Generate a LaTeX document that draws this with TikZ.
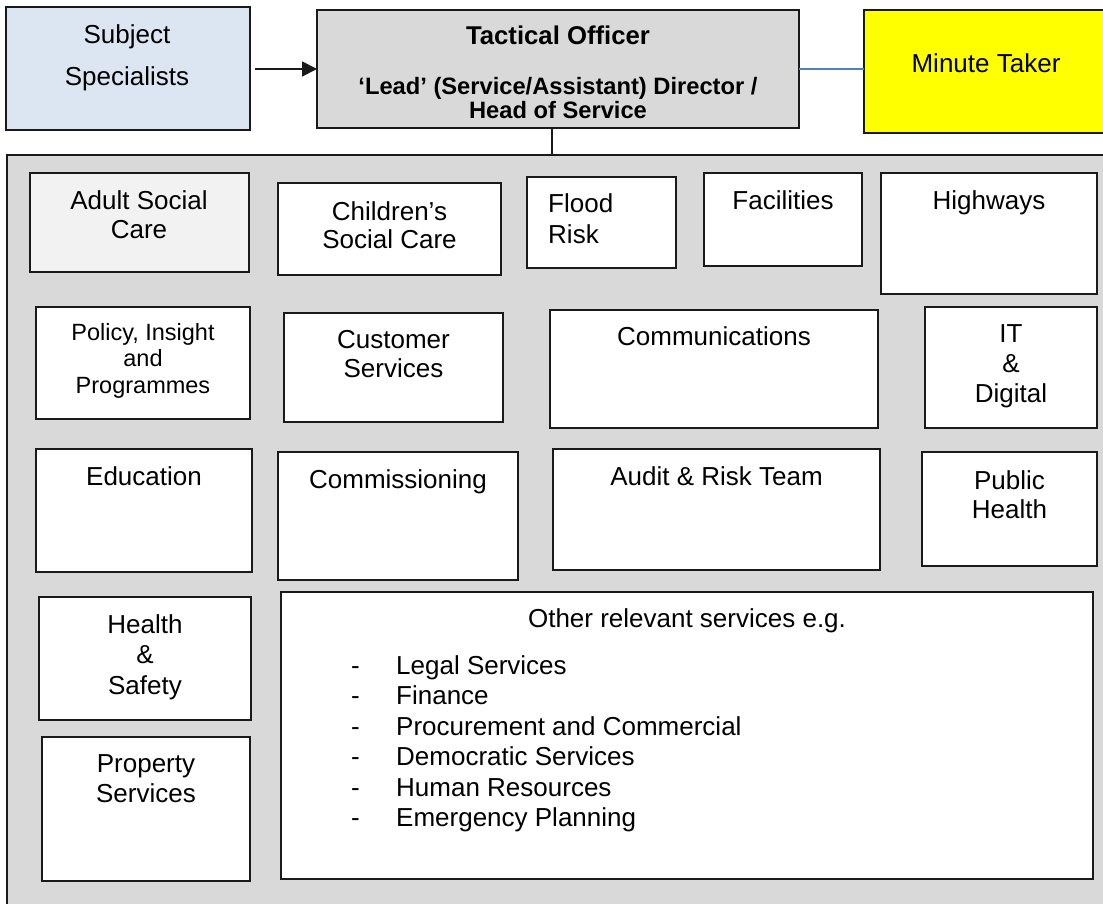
\documentclass[tikz,border=0pt]{standalone}
\usepackage{fontspec}
\setmainfont{Liberation Sans}
\usetikzlibrary{arrows.meta}

\definecolor{panelgray}{HTML}{D9D9D9}
\definecolor{subjblue}{HTML}{DCE6F2}
\definecolor{adultgray}{HTML}{F2F2F2}
\definecolor{mtyellow}{HTML}{FFFF00}
\definecolor{linkblue}{HTML}{4F81BD}
\definecolor{edge}{HTML}{1A1A1A}

\tikzset{
  unitbox/.style={draw=edge, line width=1.8pt, fill=white, rectangle,
    inner sep=0pt, outer sep=0pt, anchor=north west},
  txt/.style={inner sep=0pt, align=center, anchor=north,
    font=\fontsize{26}{29}\selectfont},
  link/.style={draw=edge, line width=1.8pt},
}

\begin{document}
\begin{tikzpicture}[x=1pt, y=-1pt]
\useasboundingbox (0,0) rectangle (1103,904);
\fill[white] (0,0) rectangle (1103,904);
\clip (0,0) rectangle (1103,904);

% top row
\node[unitbox, fill=subjblue, minimum width=244pt, minimum height=123pt] (subj) at (6,7) {};
\node[unitbox, fill=panelgray, minimum width=482pt, minimum height=118pt] (tact) at (317,10) {};
\node[unitbox, fill=mtyellow, minimum width=244pt, minimum height=123pt] (minute) at (864,10) {};

\node[txt, font=\fontsize{26}{42}\selectfont] (subjt) at (127,24.4) {Subject\\Specialists};
\node[txt, font=\fontsize{25.7}{28}\selectfont\bfseries] (tactt) at (558,25.6) {Tactical Officer};
\node[txt, font=\fontsize{23.7}{24}\selectfont\bfseries] (tacts) at (558,77) {‘Lead’ (Service/Assistant) Director /\\Head of Service};
\node[txt] (minutet) at (986,53.4) {Minute Taker};

% the grey panel holding the service areas
\node[unitbox, fill=panelgray, minimum width=1108pt, minimum height=760pt] (panel) at (7,155) {};

% connectors
\draw[link, -{Triangle[length=15pt,width=15pt]}] ([xshift=5pt]subj.east |- tact.west) -- (tact.west);
\draw[draw=linkblue, line width=1.8pt] (tact.east) -- (tact.east -| minute.west);
\draw[link] ([xshift=-6pt]tact.south) -- ([xshift=-6pt]tact.south |- panel.north);

% row 1
\node[unitbox, fill=adultgray, minimum width=219pt, minimum height=99pt] (adult) at (30,173) {};
\node[txt] (adultt) at (139,190.4) {Adult Social\\Care};
\node[unitbox, minimum width=223pt, minimum height=92pt] (child) at (278,183) {};
\node[txt, font=\fontsize{26}{28.5}\selectfont] (childt) at (389.5,201.4) {Children’s\\Social Care};
\node[unitbox, minimum width=149pt, minimum height=91pt] (flood) at (527,177) {};
\node[txt, align=left, anchor=north west, font=\fontsize{26}{31}\selectfont] (floodt) at (548,193.4) {Flood\\Risk};
\node[unitbox, minimum width=158pt, minimum height=93pt] (facil) at (704,173) {};
\node[txt] (facilt) at (783,190.4) {Facilities};
\node[unitbox, minimum width=216pt, minimum height=121pt] (highw) at (881,173) {};
\node[txt] (highwt) at (989,190.4) {Highways};

% row 2
\node[unitbox, minimum width=214pt, minimum height=112pt] (policy) at (36,307) {};
\node[txt, font=\fontsize{23.5}{26.5}\selectfont] (policyt) at (143,323.2) {Policy, Insight\\and\\Programmes};
\node[unitbox, minimum width=219pt, minimum height=109pt] (cust) at (284,313) {};
\node[txt] (custt) at (393.5,330.4) {Customer\\Services};
\node[unitbox, minimum width=328pt, minimum height=118pt] (comm) at (550,310) {};
\node[txt] (commt) at (714,326.4) {Communications};
\node[unitbox, minimum width=172pt, minimum height=121pt] (it) at (925,307) {};
\node[txt, font=\fontsize{26}{30}\selectfont] (itt) at (1011,324.4) {IT\\\&\\Digital};

% row 3
\node[unitbox, minimum width=216pt, minimum height=123pt] (edu) at (36,449) {};
\node[txt] (edut) at (144,466.4) {Education};
\node[unitbox, minimum width=240pt, minimum height=128pt] (commis) at (278,452) {};
\node[txt] (commist) at (398,469.4) {Commissioning};
\node[unitbox, minimum width=327pt, minimum height=121pt] (audit) at (553,449) {};
\node[txt] (auditt) at (716.5,466.4) {Audit \& Risk Team};
\node[unitbox, minimum width=175pt, minimum height=114pt] (public) at (922,452) {};
\node[txt] (publict) at (1009.5,470.4) {Public\\Health};

% row 4
\node[unitbox, minimum width=212pt, minimum height=123pt] (health) at (39,597) {};
\node[txt, font=\fontsize{26}{30.5}\selectfont] (healtht) at (145,614.4) {Health\\\&\\Safety};
\node[unitbox, minimum width=208pt, minimum height=144pt] (prop) at (42,737) {};
\node[txt, font=\fontsize{26}{30}\selectfont] (propt) at (146,754.4) {Property\\Services};
\node[unitbox, minimum width=812pt, minimum height=287pt] (other) at (281,592) {};
\node[txt] (othert) at (687,608.4) {Other relevant services e.g.};
\node[txt, align=left, anchor=north west, font=\fontsize{26}{30.4}\selectfont] (otherl) at (351,655.4)
  {\makebox[45pt][l]{-}Legal Services\\
   \makebox[45pt][l]{-}Finance\\
   \makebox[45pt][l]{-}Procurement and Commercial\\
   \makebox[45pt][l]{-}Democratic Services\\
   \makebox[45pt][l]{-}Human Resources\\
   \makebox[45pt][l]{-}Emergency Planning};
\end{tikzpicture}
\end{document}
